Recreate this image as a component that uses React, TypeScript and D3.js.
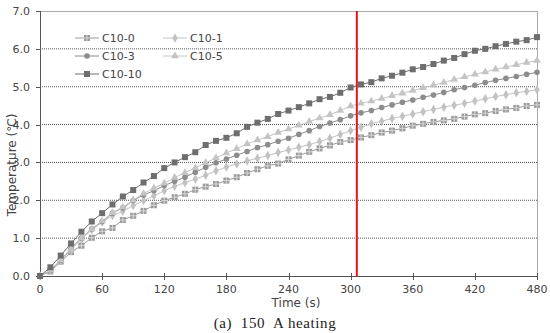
import React from 'react';
import * as d3 from 'd3';

// time axis in seconds, one reading every 10 s
const times = d3.range(0, 490, 10);

const c10_0 = [0, 0.12, 0.38, 0.63, 0.80, 1.01, 1.18, 1.27, 1.48, 1.59, 1.72, 1.87, 1.99, 2.08, 2.17, 2.28, 2.36, 2.43, 2.52, 2.61, 2.72, 2.82, 2.91, 2.97, 3.08, 3.18, 3.28, 3.37, 3.45, 3.54, 3.59, 3.66, 3.72, 3.79, 3.84, 3.90, 3.97, 4.02, 4.07, 4.11, 4.15, 4.21, 4.27, 4.30, 4.36, 4.40, 4.44, 4.49, 4.52];
const c10_1 = [0, 0.14, 0.40, 0.70, 0.97, 1.22, 1.42, 1.60, 1.71, 1.86, 1.99, 2.12, 2.25, 2.37, 2.46, 2.56, 2.66, 2.78, 2.88, 2.96, 3.04, 3.11, 3.18, 3.26, 3.33, 3.40, 3.47, 3.55, 3.64, 3.74, 3.84, 3.93, 4.02, 4.09, 4.16, 4.22, 4.28, 4.34, 4.40, 4.46, 4.51, 4.56, 4.62, 4.68, 4.74, 4.79, 4.84, 4.88, 4.92];
const c10_3 = [0, 0.15, 0.42, 0.73, 1.00, 1.25, 1.44, 1.66, 1.80, 1.99, 2.14, 2.25, 2.39, 2.50, 2.61, 2.74, 2.87, 2.99, 3.09, 3.19, 3.29, 3.39, 3.47, 3.56, 3.64, 3.74, 3.84, 3.95, 4.04, 4.13, 4.23, 4.31, 4.37, 4.45, 4.52, 4.59, 4.65, 4.72, 4.78, 4.85, 4.92, 4.98, 5.04, 5.11, 5.17, 5.22, 5.27, 5.33, 5.38];
const c10_5 = [0, 0.15, 0.42, 0.72, 1.00, 1.24, 1.45, 1.67, 1.82, 2.00, 2.18, 2.32, 2.45, 2.60, 2.73, 2.86, 2.99, 3.12, 3.25, 3.36, 3.49, 3.59, 3.68, 3.79, 3.88, 3.98, 4.08, 4.17, 4.26, 4.37, 4.49, 4.56, 4.62, 4.69, 4.76, 4.83, 4.90, 4.97, 5.04, 5.11, 5.19, 5.26, 5.33, 5.39, 5.46, 5.52, 5.58, 5.64, 5.69];
const c10_10 = [0, 0.23, 0.54, 0.86, 1.17, 1.44, 1.66, 1.89, 2.10, 2.27, 2.47, 2.64, 2.85, 3.00, 3.14, 3.27, 3.46, 3.57, 3.65, 3.77, 3.94, 4.05, 4.15, 4.28, 4.37, 4.46, 4.56, 4.67, 4.73, 4.84, 4.98, 5.06, 5.12, 5.22, 5.29, 5.37, 5.46, 5.52, 5.60, 5.69, 5.76, 5.86, 5.95, 6.00, 6.07, 6.13, 6.19, 6.23, 6.31];

const xTicks = [0, 60, 120, 180, 240, 300, 360, 420, 480];
const yTicks = [0, 1, 2, 3, 4, 5, 6, 7];
const markerTime = 306;

const series = [
  { name: 'C10-0', values: c10_0, color: '#9a9a9a', marker: 'crossSquare' },
  { name: 'C10-1', values: c10_1, color: '#c2c2c2', marker: 'diamond' },
  { name: 'C10-3', values: c10_3, color: '#8c8c8c', marker: 'circle' },
  { name: 'C10-5', values: c10_5, color: '#c4c4c4', marker: 'triangle' },
  { name: 'C10-10', values: c10_10, color: '#6e6e6e', marker: 'square' },
];

const W = 550;
const H = 333;
const margin = { top: 11, right: 13, bottom: 57, left: 40 };

const Marker = ({ type, x, y, color }: { type: string; x: number; y: number; color: string }) => {
  if (type === 'circle') return <circle cx={x} cy={y} r={2.8} fill={color} />;
  if (type === 'square') return <rect x={x - 3} y={y - 3} width={6} height={6} fill={color} />;
  if (type === 'crossSquare')
    return (
      <g>
        <rect x={x - 3} y={y - 3} width={6} height={6} fill={color} />
        <path d={`M${x - 3},${y}H${x + 3}M${x},${y - 3}V${y + 3}`} stroke="#d8d8d8" strokeWidth={1} />
      </g>
    );
  const sym = type === 'diamond' ? d3.symbol(d3.symbolDiamond, 26) : d3.symbol(d3.symbolTriangle, 26);
  return <path d={sym() as string} transform={`translate(${x},${y})`} fill={color} />;
};

export default function App() {
  const x = d3.scaleLinear().domain([0, 480]).range([margin.left, W - margin.right]);
  const y = d3.scaleLinear().domain([0, 7]).range([H - margin.bottom, margin.top]);
  const line = d3.line<number>().x((_, i) => x(times[i])).y(d => y(d));
  const font = '"DejaVu Sans", sans-serif';
  const x0 = x(0), x1 = x(480), y0 = y(0), y1 = y(7);

  const legendPos = [
    [75, 38], [163, 38], [75, 56], [163, 56], [75, 74],
  ];

  return (
    <svg width={W} height={H} style={{ position: 'absolute', left: 0, top: 0, background: '#fff' }}>
      {/* grid */}
      {yTicks.filter(t => t > 0 && t < 7).map(t => (
        <line key={t} x1={x0} x2={x1} y1={y(t)} y2={y(t)} stroke="#555" strokeWidth={1} strokeDasharray="1,1" />
      ))}
      {/* frame */}
      <line x1={x0} x2={x1} y1={y1 + 0.5} y2={y1 + 0.5} stroke="#aaa" />
      <line x1={x1 + 0.5} x2={x1 + 0.5} y1={y1} y2={y0} stroke="#aaa" />
      <line x1={x0 + 0.5} x2={x0 + 0.5} y1={y1} y2={y0} stroke="#555" />
      <line x1={x0} x2={x1} y1={y0 + 0.5} y2={y0 + 0.5} stroke="#555" />
      {yTicks.map(t => (
        <g key={t}>
          <line x1={x0 - 4} x2={x0} y1={Math.round(y(t)) + 0.5} y2={Math.round(y(t)) + 0.5} stroke="#555" />
          <text x={30} y={y(t) + 4} textAnchor="end" fontFamily={font} fontSize={11} fill="#444">{t.toFixed(1)}</text>
        </g>
      ))}
      {xTicks.map(t => (
        <g key={t}>
          <line x1={Math.round(x(t)) + 0.5} x2={Math.round(x(t)) + 0.5} y1={y0 - 3} y2={y0 + 4} stroke="#555" />
          <text x={x(t)} y={y0 + 17} textAnchor="middle" fontFamily={font} fontSize={11} fill="#444">{t}</text>
        </g>
      ))}
      {/* series */}
      {series.map(s => (
        <g key={s.name}>
          <path d={line(s.values) as string} fill="none" stroke={s.color} strokeWidth={1} />
          {s.values.map((v, i) => (
            <Marker key={i} type={s.marker} x={x(times[i])} y={y(v)} color={s.color} />
          ))}
        </g>
      ))}
      {/* reference line */}
      <line x1={x(markerTime)} x2={x(markerTime)} y1={y1} y2={y0} stroke="#e8141c" strokeWidth={2} />
      {/* legend */}
      {series.map((s, i) => {
        const [lx, ly] = legendPos[i];
        return (
          <g key={s.name}>
            <line x1={lx} x2={lx + 24} y1={ly} y2={ly} stroke={s.color} />
            <Marker type={s.marker} x={lx + 12} y={ly} color={s.color} />
            <text x={lx + 27} y={ly + 4} fontFamily={font} fontSize={11} fill="#444">{s.name}</text>
          </g>
        );
      })}
      {/* axis titles */}
      <text x={296} y={y0 + 31} textAnchor="middle" fontFamily={font} fontSize={12} fill="#444">Time (s)</text>
      <text transform={`translate(16,165) rotate(-90)`} textAnchor="middle" fontFamily={font} fontSize={12} fill="#444">Temperature (℃)</text>
      <text x={275} y={328} textAnchor="middle" fontFamily='"Liberation Serif", serif' fontSize={15} letterSpacing={0.6} fill="#222" style={{ whiteSpace: 'pre' }}>(a)  150  A heating</text>
    </svg>
  );
}
